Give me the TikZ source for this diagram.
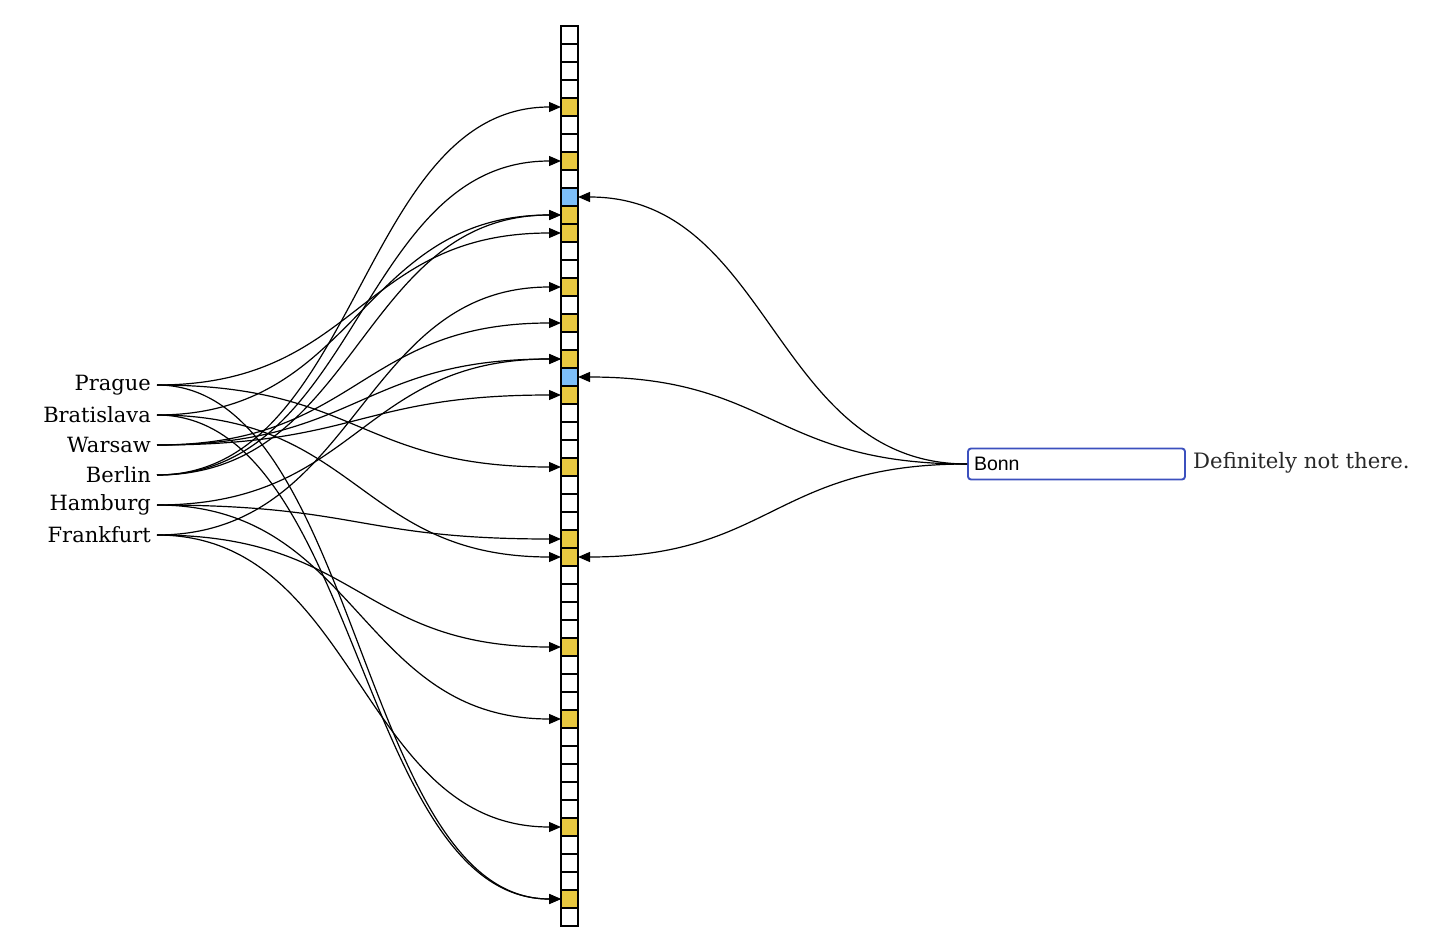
\documentclass[tikz,border=0pt]{standalone}
\usepackage{fontspec}
\setmainfont{DejaVu Serif}
\newfontfamily\uisans{Liberation Sans}
\usetikzlibrary{arrows.meta}
\definecolor{hit}{RGB}{232,200,64}
\definecolor{probe}{RGB}{125,190,248}
\definecolor{boxblue}{RGB}{60,80,190}
\definecolor{note}{RGB}{40,40,40}
\begin{document}
\begin{tikzpicture}[x=1pt,y=-1pt,
  cell/.style={draw=black, line width=1.6pt, minimum width=17pt, minimum height=18pt, inner sep=0pt, outer sep=0pt},
  city/.style={anchor=east, inner xsep=6pt, inner ysep=0pt, font=\fontsize{21}{25}\selectfont},
  link/.style={line width=1.2pt, -{Triangle[length=12pt,width=10pt]}},
  bonnbox/.style={draw=boxblue, line width=1.9pt, rounded corners=3pt, text width=205pt, inner xsep=6pt, minimum height=31pt, align=left, font=\uisans\fontsize{19.5}{22}\selectfont},
  verdict/.style={anchor=west, text=note, inner sep=0pt, font=\fontsize{21.2}{25}\selectfont}
]
\useasboundingbox (0,0) rectangle (1441,947);

% bit array
\foreach \i in {0,...,49}{
  \xdef\cellcol{white}
  \foreach \j in {4,7,10,11,14,16,18,20,24,28,29,34,38,44,48}{\ifnum\i=\j\relax\xdef\cellcol{hit}\fi}
  \foreach \j in {9,19}{\ifnum\i=\j\relax\xdef\cellcol{probe}\fi}
  \node[cell, fill=\cellcol] (c\i) at (569.5,{35+18*\i}) {};
}

% cities
\node[city] (prague)     at (157,385) {Prague};
\node[city] (bratislava) at (157,415) {Bratislava};
\node[city] (warsaw)     at (157,445) {Warsaw};
\node[city] (berlin)     at (157,475) {Berlin};
\node[city] (hamburg)    at (157,505) {Hamburg};
\node[city] (frankfurt)  at (157,535) {Frankfurt};

\foreach \s/\t in {prague/11, prague/24, prague/48,
                   bratislava/10, bratislava/29, bratislava/48,
                   warsaw/16, warsaw/18, warsaw/20,
                   berlin/4, berlin/7, berlin/10,
                   hamburg/18, hamburg/28, hamburg/38,
                   frankfurt/14, frankfurt/34, frankfurt/44}
  \draw[link] (\s.east) .. controls +(202,0) and +(-202,0) .. (c\t.west);

% query
\node[bonnbox] (bonn) at (1076.5,464) {Bonn};
\node[verdict] (answer) at (1193,463) {Definitely not there.};

\foreach \t in {9,19,29}
  \draw[link] (bonn.west) .. controls +(-194,0) and +(194,0) .. (c\t.east);
\end{tikzpicture}
\end{document}
